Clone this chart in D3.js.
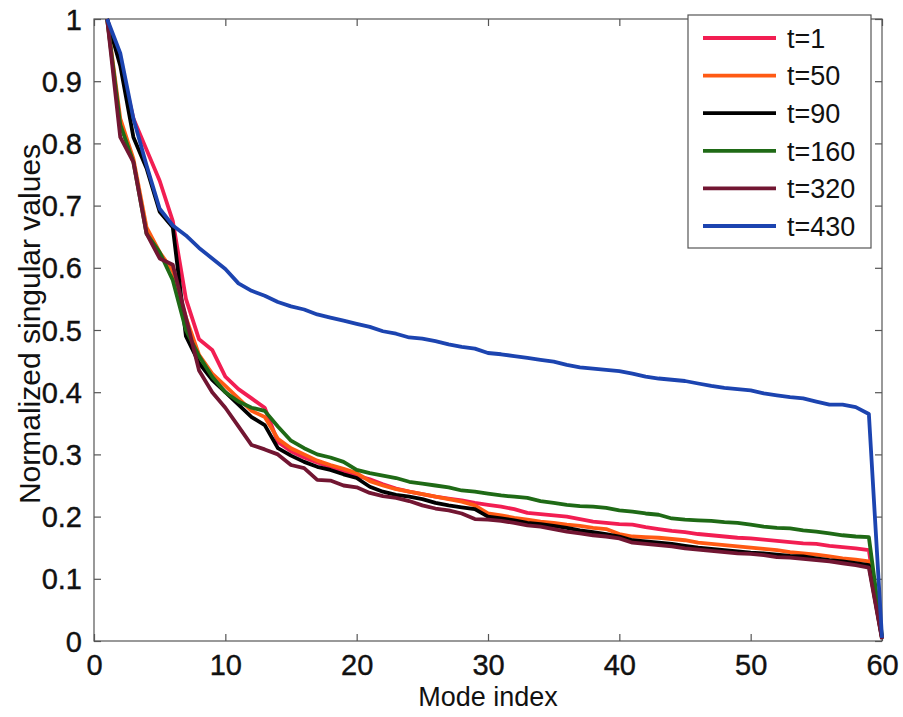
<!DOCTYPE html>
<html>
<head>
<meta charset="utf-8">
<script src="https://cdn.jsdelivr.net/npm/d3@7"></script>
<style>
  body { margin: 0; background: #fff; }
  svg { display: block; font-family: "Liberation Sans", Arial, sans-serif; }
</style>
</head>
<body>
<svg id="chart" width="903" height="717"></svg>
<script>
// ---- Data ----
const modeIndex = d3.range(1, 61);
const seriesNames = ["t=1", "t=50", "t=90", "t=160", "t=320", "t=430"];
const seriesColors = ["#f21e52", "#ff5a14", "#000000", "#1f6a16", "#721632", "#1c44b0"];

const t1 = [1.0,0.93,0.84,0.79,0.74,0.675,0.55,0.485,0.468,0.425,0.405,0.39,0.375,0.32,0.305,0.295,0.287,0.28,0.272,0.266,
  0.26,0.252,0.245,0.24,0.236,0.232,0.229,0.226,0.222,0.219,0.216,0.212,0.206,0.204,0.202,0.2,0.196,0.192,0.19,0.188,
  0.187,0.183,0.18,0.177,0.175,0.172,0.17,0.168,0.166,0.165,0.163,0.161,0.159,0.157,0.156,0.153,0.151,0.149,0.146,0.005];
const t50 = [1.0,0.84,0.775,0.665,0.625,0.595,0.52,0.46,0.43,0.41,0.39,0.37,0.36,0.325,0.31,0.3,0.29,0.283,0.277,0.27,
  0.257,0.25,0.244,0.24,0.236,0.232,0.228,0.224,0.218,0.205,0.202,0.198,0.195,0.192,0.19,0.187,0.185,0.182,0.18,0.172,
  0.168,0.167,0.166,0.164,0.162,0.158,0.156,0.154,0.152,0.15,0.148,0.146,0.143,0.141,0.139,0.136,0.133,0.131,0.128,0.005];
const t90 = [1.0,0.925,0.81,0.76,0.69,0.665,0.49,0.447,0.42,0.4,0.38,0.36,0.347,0.31,0.298,0.288,0.28,0.275,0.268,0.262,
  0.248,0.24,0.235,0.232,0.228,0.222,0.218,0.215,0.212,0.2,0.197,0.194,0.19,0.188,0.185,0.182,0.178,0.175,0.172,0.168,
  0.162,0.16,0.158,0.156,0.153,0.15,0.148,0.146,0.144,0.142,0.141,0.139,0.137,0.136,0.133,0.13,0.128,0.125,0.122,0.004];
const t160 = [1.0,0.83,0.77,0.655,0.625,0.58,0.5,0.458,0.425,0.4,0.385,0.375,0.37,0.345,0.322,0.31,0.3,0.295,0.288,0.275,
  0.27,0.266,0.262,0.256,0.253,0.25,0.247,0.242,0.24,0.237,0.234,0.232,0.23,0.225,0.222,0.219,0.217,0.216,0.214,0.21,
  0.208,0.205,0.203,0.197,0.195,0.194,0.193,0.191,0.19,0.187,0.184,0.182,0.181,0.178,0.176,0.173,0.17,0.168,0.167,0.008];
const t320 = [1.0,0.81,0.77,0.655,0.615,0.605,0.52,0.435,0.4,0.375,0.345,0.315,0.308,0.3,0.283,0.278,0.259,0.258,0.25,0.247,
  0.238,0.233,0.23,0.225,0.218,0.213,0.21,0.205,0.196,0.195,0.193,0.19,0.186,0.184,0.18,0.176,0.173,0.17,0.168,0.165,
  0.158,0.156,0.154,0.152,0.149,0.147,0.145,0.143,0.141,0.14,0.138,0.135,0.134,0.132,0.13,0.128,0.125,0.122,0.118,0.003];
const t430 = [1.0,0.945,0.84,0.765,0.695,0.668,0.652,0.632,0.615,0.598,0.575,0.563,0.555,0.545,0.538,0.533,0.525,0.52,0.515,0.51,
  0.505,0.498,0.494,0.488,0.486,0.482,0.477,0.473,0.47,0.463,0.461,0.458,0.455,0.452,0.449,0.444,0.44,0.438,0.436,0.434,
  0.43,0.425,0.422,0.42,0.418,0.414,0.41,0.407,0.405,0.403,0.398,0.395,0.392,0.39,0.385,0.38,0.38,0.376,0.365,0.005];

const seriesValues = [t1, t50, t90, t160, t320, t430];
const xTicks = [0, 10, 20, 30, 40, 50, 60];
const yTicks = [0, 0.1, 0.2, 0.3, 0.4, 0.5, 0.6, 0.7, 0.8, 0.9, 1];
const yTickLabels = ["0", "0.1", "0.2", "0.3", "0.4", "0.5", "0.6", "0.7", "0.8", "0.9", "1"];

// ---- Layout ----
const L = 94, R = 882, T = 19, B = 641;
const svg = d3.select("#chart");
const x = d3.scaleLinear().domain([0, 60]).range([L, R]);
const y = d3.scaleLinear().domain([0, 1]).range([B, T]);
const axisColor = "#555";
const fontFam = "'Liberation Sans', Arial, sans-serif";

// box
svg.append("rect").attr("x", L).attr("y", T).attr("width", R - L).attr("height", B - T)
  .attr("fill", "none").attr("stroke", axisColor).attr("stroke-width", 1.2);

// axes with inward ticks
const xAxis = svg.append("g").attr("transform", `translate(0,${B})`)
  .call(d3.axisBottom(x).tickValues(xTicks).tickSizeInner(-7).tickSizeOuter(0).tickPadding(13).tickFormat(d3.format("d")));
const xAxisTop = svg.append("g").attr("transform", `translate(0,${T})`)
  .call(d3.axisTop(x).tickValues(xTicks).tickSizeInner(-7).tickSizeOuter(0).tickFormat(""));
const yAxis = svg.append("g").attr("transform", `translate(${L},0)`)
  .call(d3.axisLeft(y).tickValues(yTicks).tickSizeInner(-7).tickSizeOuter(0).tickPadding(12)
    .tickFormat((d, i) => yTickLabels[i]));
const yAxisRight = svg.append("g").attr("transform", `translate(${R},0)`)
  .call(d3.axisRight(y).tickValues(yTicks).tickSizeInner(-7).tickSizeOuter(0).tickFormat(""));

[xAxis, xAxisTop, yAxis, yAxisRight].forEach(g => {
  g.select(".domain").remove();
  g.selectAll(".tick line").attr("stroke", axisColor).attr("stroke-width", 1.2);
  g.selectAll(".tick text").attr("fill", "#111").attr("font-size", 29)
    .attr("font-family", fontFam).attr("stroke", "#111").attr("stroke-width", 0.4);
});
xAxis.selectAll(".tick text").attr("dy", "0.71em");
yAxis.selectAll(".tick text").attr("dy", "0.35em");

// lines
const line = d3.line().x((d, i) => x(modeIndex[i])).y(d => y(d));
seriesValues.forEach((vals, k) => {
  svg.append("path").datum(vals)
    .attr("d", line)
    .attr("fill", "none")
    .attr("stroke", seriesColors[k])
    .attr("stroke-width", 3.8)
    .attr("stroke-linejoin", "round");
});

// axis labels
svg.append("text").attr("x", (L + R) / 2).attr("y", 706).attr("text-anchor", "middle")
  .attr("font-size", 27).attr("fill", "#111").attr("font-family", fontFam).text("Mode index");
svg.append("text").attr("transform", `translate(40,324) rotate(-90)`).attr("text-anchor", "middle")
  .attr("font-size", 30).attr("fill", "#111").attr("font-family", fontFam).text("Normalized singular values");

// legend
const lg = svg.append("g");
lg.append("rect").attr("x", 688).attr("y", 15).attr("width", 183).attr("height", 233)
  .attr("fill", "#fff").attr("stroke", axisColor).attr("stroke-width", 1.2);
seriesNames.forEach((name, k) => {
  const yy = 38 + k * 37.6;
  lg.append("line").attr("x1", 703).attr("x2", 776).attr("y1", yy).attr("y2", yy)
    .attr("stroke", seriesColors[k]).attr("stroke-width", 3.8);
  lg.append("text").attr("x", 787).attr("y", yy).attr("dy", "0.36em")
    .attr("font-size", 27).attr("fill", "#111").attr("font-family", fontFam).text(name);
});
</script>
</body>
</html>
